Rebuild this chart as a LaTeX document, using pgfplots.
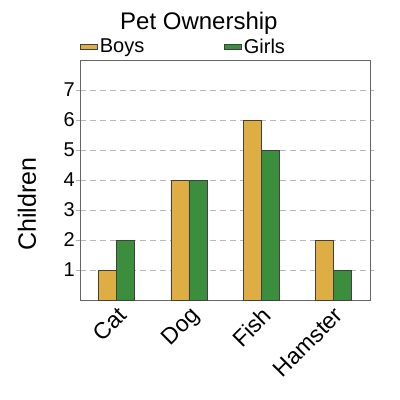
\documentclass[border=0pt]{standalone}
\usepackage{fontspec}
\setmainfont{Liberation Sans}
\usepackage{pgfplots}
\pgfplotsset{compat=1.18}
\definecolor{boys}{HTML}{DEAE45}
\definecolor{girls}{HTML}{3B8E3B}

\begin{document}
\begin{tikzpicture}
\useasboundingbox (-80bp,-100bp) rectangle (320bp,300bp);
\begin{axis}[
    scale only axis,
    width=290bp,
    height=240bp,
    xmin=-0.51, xmax=3.51,
    ymin=0, ymax=8,
    xtick={0,1,2,3},
    xticklabels={Cat,Dog,Fish,Hamster},
    ytick={1,2,3,4,5,6,7},
    x tick label style={rotate=45, anchor=north east, font=\fontsize{23bp}{25bp}\selectfont, inner sep=1bp},
    y tick label style={font=\fontsize{20bp}{22bp}\selectfont, inner sep=1bp},
    /pgf/number format/assume math mode=true,
    xtick style={draw=none},
    ytick style={draw=gray!60, line width=0.8pt},
    tick align=outside,
    major tick length=4bp,
    ymajorgrids,
    grid style={dash pattern=on 6bp off 4bp, gray!55, line width=0.8pt},
    axis line style={gray!80!black, line width=0.8pt},
    ylabel={Children},
    ylabel style={at={(axis description cs:-0.183,0.40)}, anchor=center,
        font=\fontsize{25bp}{27bp}\selectfont},
    title={Pet Ownership},
    title style={at={(0.41,1)}, anchor=base, yshift=25bp, font=\fontsize{24bp}{26bp}\selectfont},
    legend columns=2,
    legend style={at={(0,1)}, anchor=south west, draw=none, fill=none, inner sep=0pt,
        yshift=3bp, font=\fontsize{20bp}{22bp}\selectfont,
        /tikz/every even column/.append style={column sep=78bp}},
    legend image code/.code={\draw[#1, draw=black!70] (0bp,-1bp) rectangle (11bp,10bp);},
    ybar,
    bar width=18bp,
]
\addplot[fill=boys, draw=black!75, line width=0.6pt, bar shift=-9bp, area legend] coordinates {
    (0,1) (1,4) (2,6) (3,2)
};
\addplot[fill=girls, draw=black!75, line width=0.6pt, bar shift=9bp, area legend] coordinates {
    (0,2) (1,4) (2,5) (3,1)
};
\legend{Boys, Girls}
\end{axis}
\end{tikzpicture}
\end{document}
